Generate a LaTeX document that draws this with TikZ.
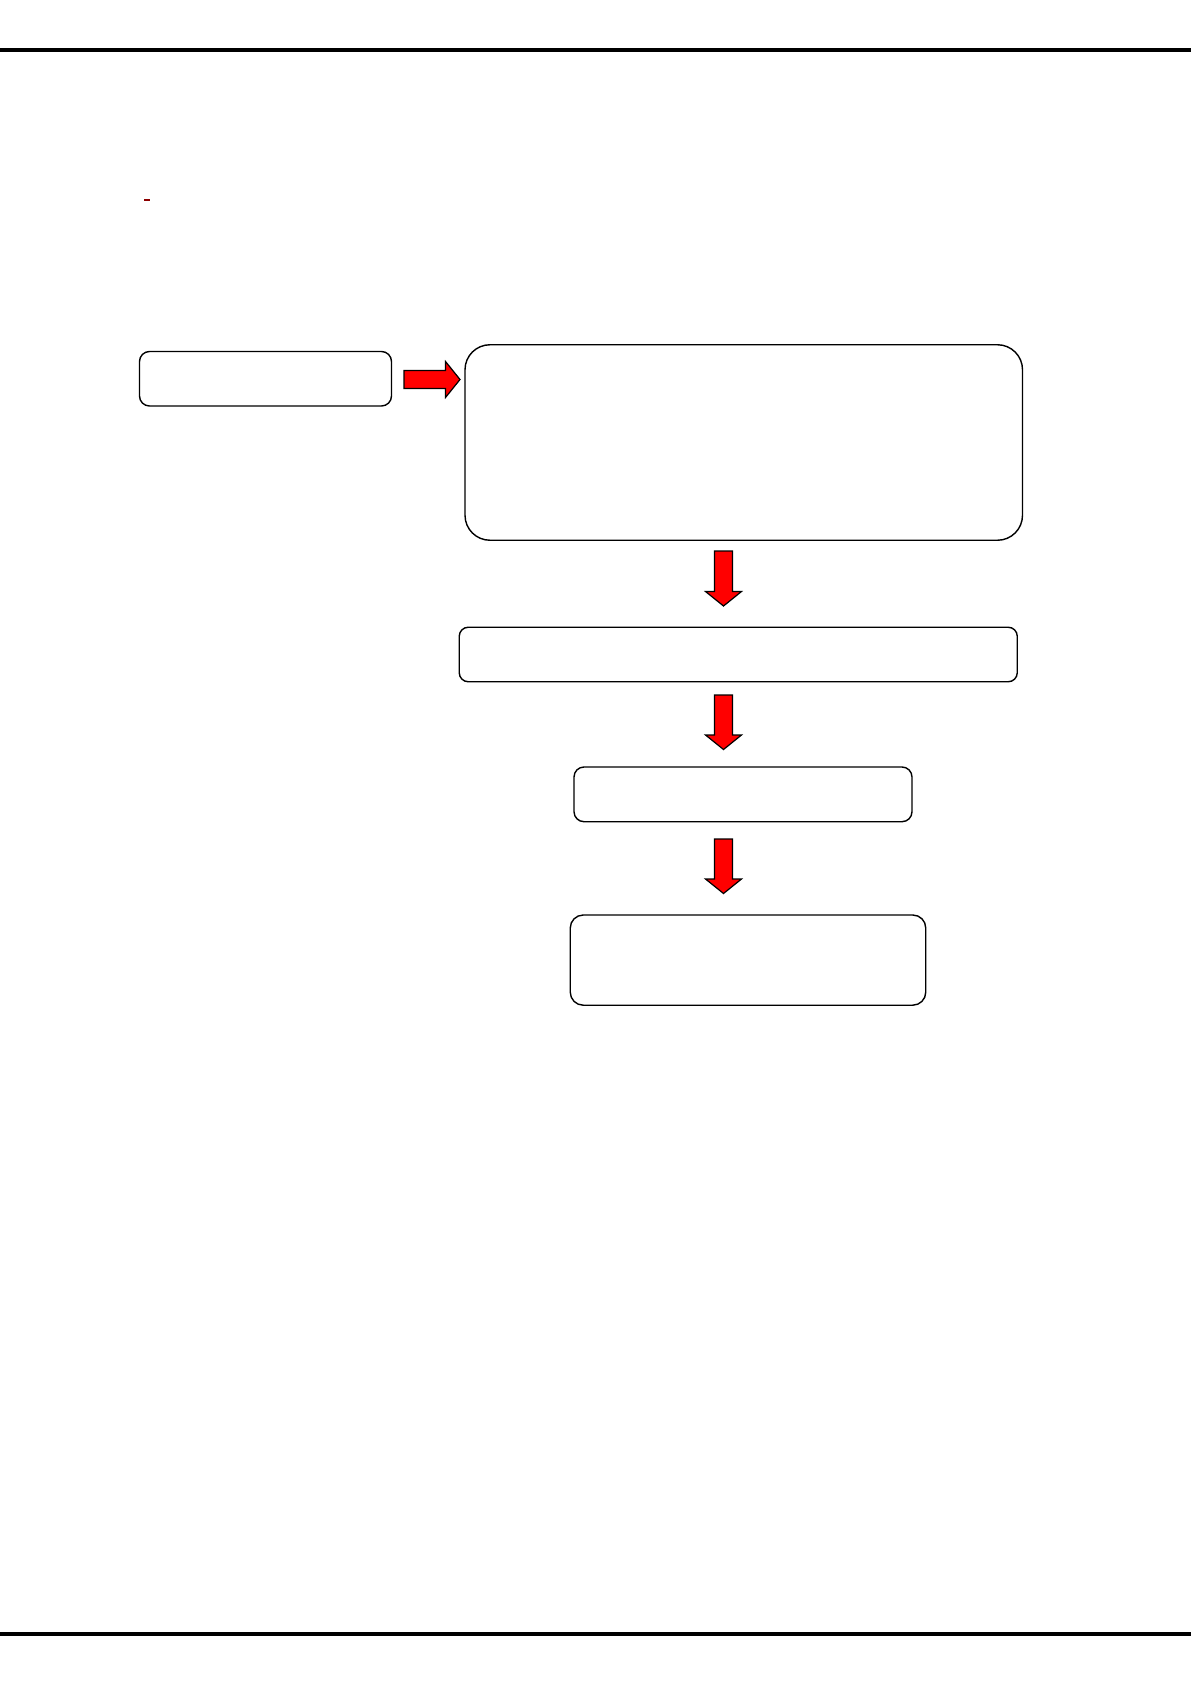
\documentclass[tikz,border=0pt]{standalone}
\usepackage{tikz}
\usetikzlibrary{calc}

\definecolor{fatred}{RGB}{255,0,0}
\definecolor{markred}{RGB}{140,0,0}

\tikzset{
  box/.style={draw, line width=0.7pt, rounded corners=#1, inner sep=0pt},
  box/.default=5pt,
  fatarrow/.style={draw, fill=fatred, line width=0.6pt, line join=miter},
  rule/.style={line width=2pt}
}

% block arrow from #1 to #2
\newcommand{\fatarrow}[3]{%
  \coordinate (#3) at ($(#2)!7.25pt!(#1)$);
  \draw[fatarrow] ($(#1)!4.5pt!90:(#2)$) -- ($(#3)!4.5pt!90:(#2)$)
    -- ($(#3)!9pt!90:(#2)$) -- (#2) -- ($(#3)!9pt!-90:(#2)$)
    -- ($(#3)!4.5pt!-90:(#2)$) -- ($(#1)!4.5pt!-90:(#2)$) -- cycle;
}

\begin{document}
\begin{tikzpicture}[x=0.5pt, y=-0.5pt]
  \useasboundingbox (0,0) rectangle (1191,1684);

  \draw[rule] (0,50) -- (1191,50);
  \draw[rule] (0,1634) -- (1191,1634);
  \fill[markred] (143.5,199) rectangle (149.5,201);

  \node (src)  [box, minimum width=126pt, minimum height=27.25pt] at (265.5,378.75) {};
  \node (main) [box=12.5pt, minimum width=278.75pt, minimum height=97.75pt] at (743.75,442.5) {};
  \node (mid)  [box=4.5pt, minimum width=279pt, minimum height=27.25pt] at (738.25,654.5) {};
  \node (low)  [box, minimum width=169pt, minimum height=27.35pt] at (743,794.35) {};
  \node (out)  [box=6.5pt, minimum width=177.75pt, minimum height=45.1pt] at (748,960.1) {};

  \coordinate (r0) at (404,379.5);   \coordinate (r1) at (460,379.5);
  \coordinate (d0) at (723.5,551);   \coordinate (d1) at (723.5,606);
  \coordinate (e0) at (723.5,695);   \coordinate (e1) at (723.5,749.5);
  \coordinate (f0) at (723.5,839);   \coordinate (f1) at (723.5,893.5);

  \fatarrow{r0}{r1}{rh}
  \fatarrow{d0}{d1}{dh}
  \fatarrow{e0}{e1}{eh}
  \fatarrow{f0}{f1}{fh}
\end{tikzpicture}
\end{document}
